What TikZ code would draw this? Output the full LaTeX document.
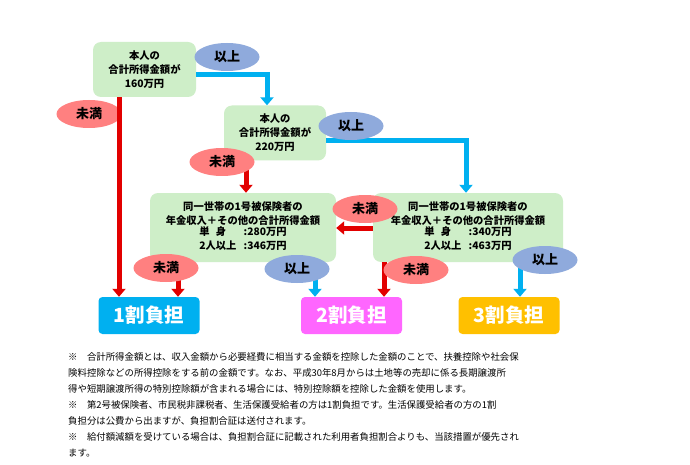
\documentclass[tikz,border=0pt]{standalone}
\usepackage{fontspec}
\setmainfont{Noto Sans CJK JP}
\usetikzlibrary{arrows.meta,shapes.geometric}
\definecolor{boxgreen}{RGB}{206,238,200}
\definecolor{ijocol}{RGB}{143,170,220}
\definecolor{mimancol}{RGB}{255,128,128}
\definecolor{redline}{RGB}{226,0,0}
\definecolor{blueline}{RGB}{0,176,240}
\definecolor{onecol}{RGB}{0,176,240}
\definecolor{twocol}{RGB}{255,102,255}
\definecolor{threecol}{RGB}{255,192,0}
\tikzset{
  gbox/.style={rounded corners=8pt, fill=boxgreen, draw=none, align=center, inner sep=0pt,
    font=\bfseries\fontsize{10.3}{14}\selectfont},
  ijo/.style={ellipse, fill=ijocol, minimum width=65pt, minimum height=28pt, inner sep=0pt,
    font=\bfseries\fontsize{13}{13}\selectfont},
  miman/.style={ellipse, fill=mimancol, minimum width=65pt, minimum height=28pt, inner sep=0pt,
    font=\bfseries\fontsize{13}{13}\selectfont},
  resbox/.style={rounded corners=4pt, minimum width=101pt, minimum height=37pt, inner sep=0pt,
    text=white, font=\bfseries\fontsize{19.5}{19.5}\selectfont},
  redarrow/.style={draw=redline, line width=5pt, -{Triangle[width=13pt,length=8pt]}},
  bluearrow/.style={draw=blueline, line width=5pt, -{Triangle[width=13pt,length=8pt]}},
  note/.style={anchor=base west, inner sep=0pt, font=\fontsize{9.4}{16}\selectfont},
}
\begin{document}
\begin{tikzpicture}[x=1pt,y=-1pt]
\useasboundingbox[fill=white] (0,0) rectangle (690,465);

% boxes
\node[gbox, minimum width=103pt, minimum height=55pt] (A) at (144.5,69.5) {本人の\\合計所得金額が\\160万円};
\node[gbox, minimum width=102pt, minimum height=55pt] (B) at (275,133) {本人の\\合計所得金額が\\220万円};
\node[gbox, minimum width=186pt, minimum height=69pt] (C) at (243,227.5)
  {同一世帯の1号被保険者の\\年金収入＋その他の合計所得金額\\[-1pt]
   \begin{tabular}{@{}l@{\hspace{0.7em}}l@{}}単\hspace{0.6em}身 & :280万円\\2人以上 & :346万円\end{tabular}};
\node[gbox, minimum width=190pt, minimum height=69pt] (D) at (468,227.5)
  {同一世帯の1号被保険者の\\年金収入＋その他の合計所得金額\\[-1pt]
   \begin{tabular}{@{}l@{\hspace{0.7em}}l@{}}単\hspace{0.6em}身 & :340万円\\2人以上 & :463万円\end{tabular}};

\node[resbox, fill=onecol] (one) at (149,315.5) {1割負担};
\node[resbox, fill=twocol] (two) at (351.5,315.5) {2割負担};
\node[resbox, fill=threecol] (three) at (509,315.5) {3割負担};

% bend / column coordinates
\coordinate (ab) at (267,75);
\coordinate (bd) at (466,141);
\coordinate (dc) at (0,228);
\coordinate (bx) at (246,0);
\coordinate (cr) at (178,0);
\coordinate (cb) at (315,0);
\coordinate (dr) at (384,0);
\coordinate (db) at (520,0);
\coordinate (ar) at (119,0);

% arrows
\draw[bluearrow] (A.east |- ab) -| (B.north -| ab);
\draw[bluearrow] (B.east |- bd) -| (D.north -| bd);
\draw[redarrow] (B.south -| bx) -- (C.north -| bx);
\draw[redarrow] (D.west |- dc) -- (C.east |- dc);
\draw[redarrow] (C.south -| cr) -- (one.north -| cr);
\draw[bluearrow] (C.south -| cb) -- (two.north -| cb);
\draw[redarrow] (D.south -| dr) -- (two.north -| dr);
\draw[bluearrow] (D.south -| db) -- (three.north -| db);

% labels
\node[miman] (m1) at (89,114) {未満};
\node[ijo] (i1) at (227,57) {以上};
\node[ijo] (i2) at (351,126) {以上};
\node[miman] (m2) at (222,162) {未満};
\node[miman] (m3) at (365,209) {未満};
\node[miman] (m4) at (166,268) {未満};
\node[ijo] (i3) at (297,269) {以上};
\node[miman] (m5) at (416,270) {未満};
\node[ijo] (i4) at (545,260) {以上};

\draw[redarrow] (A.south -| ar) -- (one.north -| ar);

% notes
\node[note] (n1) at (68,360) {※　合計所得金額とは、収入金額から必要経費に相当する金額を控除した金額のことで、扶養控除や社会保};
\node[note] (n2) at (68,376) {険料控除などの所得控除をする前の金額です。なお、平成30年8月からは土地等の売却に係る長期譲渡所};
\node[note] (n3) at (68,392) {得や短期譲渡所得の特別控除額が含まれる場合には、特別控除額を控除した金額を使用します。};
\node[note] (n4) at (68,408) {※　第2号被保険者、市民税非課税者、生活保護受給者の方は1割負担です。生活保護受給者の方の1割};
\node[note] (n5) at (68,424) {負担分は公費から出ますが、負担割合証は送付されます。};
\node[note] (n6) at (68,440) {※　給付額減額を受けている場合は、負担割合証に記載された利用者負担割合よりも、当該措置が優先され};
\node[note] (n7) at (68,456) {ます。};
\end{tikzpicture}
\end{document}
